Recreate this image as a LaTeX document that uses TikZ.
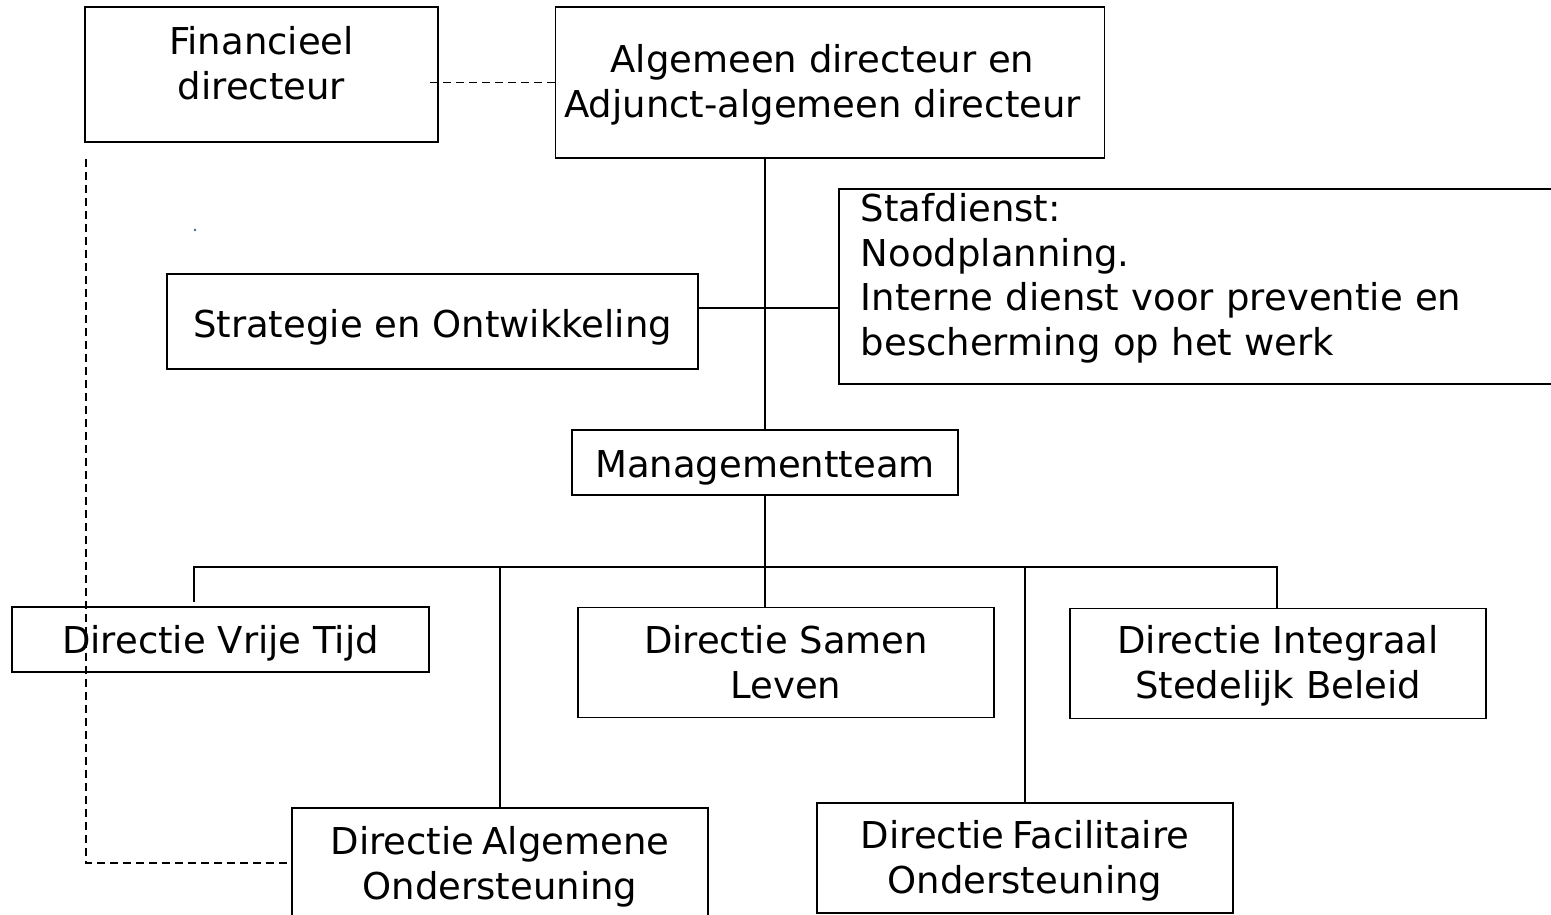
\documentclass[tikz,border=0pt]{standalone}
\usepackage{fontspec}
\setmainfont{DejaVu Sans}
\usepackage{tikz}
\definecolor{straydot}{HTML}{2F6F8F}
\newcommand{\padabove}[1]{\rule{0pt}{#1}}
\newcommand{\padbelow}[1]{\rule[-#1]{0pt}{#1}}

\begin{document}
\begin{tikzpicture}[x=1pt, y=-1pt,
    orgbox/.style={draw, line width=1.8pt, inner sep=0pt, align=center,
        font=\fontsize{37}{44.5}\selectfont},
    link/.style={line width=1.6pt},
    dashlink/.style={line width=1.3pt, dash pattern=on 8pt off 5pt}]
    \useasboundingbox (0,0) rectangle (1551,914);
    \clip (0,0) rectangle (1551,914);

    % Top row
    \node[orgbox, minimum width=353pt, minimum height=135pt] (fin) at (261.5,74.5) {Financieel\\directeur\padbelow{23.1pt}};
    \node[orgbox, minimum width=549pt, minimum height=151pt] (alg) at (830,82.5) {\padabove{32.7pt}Algemeen directeur en\hspace*{15pt}\\Adjunct-algemeen directeur\hspace*{15pt}};

    % Staff level
    \node[orgbox, minimum width=531pt, minimum height=95pt] (strat) at (432.5,321.5) {\padabove{38.7pt}Strategie en Ontwikkeling};
    \node[orgbox, anchor=north west, text width=718pt, inner xsep=22pt, align=left, minimum height=195pt] (staf) at (838,188) {Stafdienst:\\Noodplanning.\\Interne dienst voor preventie en\\bescherming op het werk\padbelow{23.5pt}};

    % Management team
    \node[orgbox, minimum width=386pt, minimum height=65pt] (mgmt) at (765,462.5) {\padabove{36.8pt}Managementteam};

    % Directies
    \node[orgbox, minimum width=417pt, minimum height=65pt] (vrij) at (220.5,639.5) {\padabove{35.3pt}Directie Vrije Tijd};
    \node[orgbox, minimum width=416pt, minimum height=110pt] (samen) at (786,662.4) {Directie Samen\\Leven};
    \node[orgbox, minimum width=416pt, minimum height=110pt] (integ) at (1278,663.5) {\padabove{33.1pt}Directie Integraal\\Stedelijk Beleid};
    \node[orgbox, minimum width=416pt, minimum height=110pt] (algo) at (500,863) {\padabove{36pt}Directie\hspace{0.22em}Algemene\\Ondersteuning};
    \node[orgbox, minimum width=416pt, minimum height=110pt] (faci) at (1025,858) {\padabove{34pt}Directie\hspace{0.22em}Facilitaire\\Ondersteuning};

    % Bus and stubs
    \coordinate (busL) at (194,567);
    \coordinate (busR) at (1277,567);
    \coordinate (vrijStub) at (194,602);
    \coordinate (stratLink) at (698,308);
    \coordinate (finLink) at (430,82.5);

    % Solid lines
    \draw[link] (mgmt.north) -- (mgmt.north |- alg.south);
    \draw[link] (stratLink) -- (stratLink -| staf.west);
    \draw[link] (mgmt.south) -- (mgmt.south |- samen.north);
    \draw[link] (vrijStub) -- (busL) -- (busR) -- (busR |- integ.north);
    \draw[link] (algo.north) -- (algo.north |- busL);
    \draw[link] (faci.north) -- (faci.north |- busL);

    % Dashed lines
    \draw[dashlink] (finLink) -- (finLink -| alg.west);
    \draw[dashlink] ([xshift=2pt,yshift=-16pt]fin.south west) |- (algo.west);

    % stray dot
    \fill[straydot] (195,230) circle (1.3);
\end{tikzpicture}
\end{document}
